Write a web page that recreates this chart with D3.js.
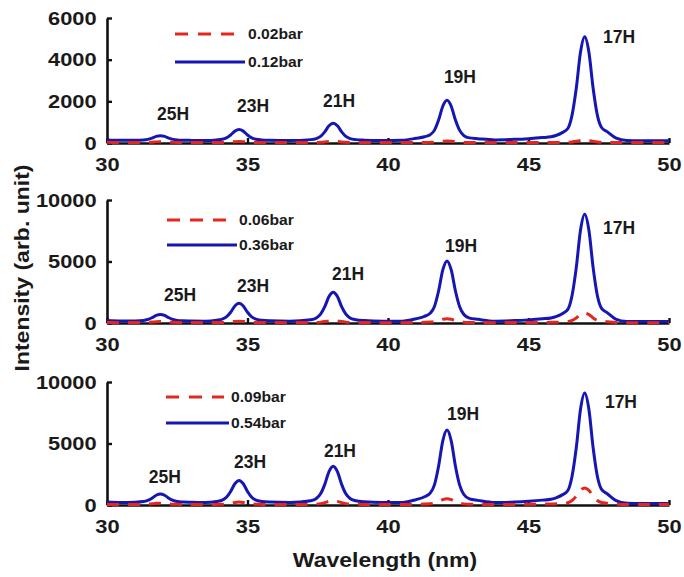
<!DOCTYPE html>
<html><head><meta charset="utf-8">
<script src="https://cdn.jsdelivr.net/npm/d3@7"></script>
<style>
body{margin:0;background:#fff}
text{font-family:Arial,"Liberation Sans",Helvetica,sans-serif;font-weight:bold;fill:#1a1a1a}
</style>
</head><body>
<svg id="chart" width="684" height="577"></svg>
<script>
// ---- data ----
const wavelength = [30.0,30.5,31.0,31.3,31.45,31.6,31.75,31.9,32.05,32.2,32.35,32.5,32.7,33.0,33.5,
 33.9,34.1,34.25,34.4,34.55,34.7,34.85,35.0,35.15,35.3,35.5,35.8,36.5,
 37.25,37.45,37.6,37.75,37.9,38.05,38.2,38.35,38.5,38.65,38.85,39.15,39.8,40.5,
 41.0,41.3,41.5,41.65,41.8,41.95,42.1,42.25,42.4,42.55,42.7,42.9,43.2,43.8,44.5,45.0,45.5,
 45.8,46.0,46.2,46.4,46.55,46.7,46.85,47.0,47.15,47.3,47.45,47.6,47.8,48.1,48.5,49.0,50.0];

const blue1 = [150,130,129,145,175,235,316,350,316,235,175,145,132,125,120,
 147,178,247,385,570,650,570,385,247,178,147,131,120,
 162,211,319,535,826,950,826,535,319,211,162,137,120,130,
 226,302,397,606,1100,1765,2050,1765,1100,606,359,245,207,150,175,209,259,
 299,373,497,695,1338,2625,4358,5100,4358,2625,1338,744,546,249,120,110,110];
const red1 = [30,20,22,24,30,40,54,60,54,40,30,24,22,21,20,
 23,26,32,45,62,70,62,45,32,26,23,21,20,
 23,27,34,50,71,80,71,50,34,27,23,21,20,20,
 23,26,30,39,60,88,100,88,60,39,29,24,22,20,21,21,23,
 24,25,28,33,49,80,122,140,122,80,49,34,30,22,20,20,20];

const blue2 = [200,160,172,211,282,425,618,700,618,425,282,211,178,161,150,
 223,310,498,875,1383,1600,1383,875,498,310,223,179,150,
 268,409,714,1325,2148,2500,2148,1325,714,409,268,197,150,150,
 346,542,787,1326,2600,4315,5050,4315,2600,1326,689,395,297,150,194,254,341,
 411,542,759,1107,2238,4500,7545,8850,7545,4500,2238,1194,846,324,130,120,120];
const red2 = [40,30,34,40,52,75,107,120,107,75,52,40,35,32,30,
 36,43,59,90,132,150,132,90,59,43,36,32,30,
 39,49,71,115,175,200,175,115,71,49,39,33,30,30,
 43,56,72,107,190,302,350,302,190,107,65,46,40,30,34,39,47,
 53,65,84,115,215,415,685,800,685,415,215,122,92,45,30,30,30];

const blue3 = [250,210,228,277,368,550,795,900,795,550,368,277,235,214,200,
 290,398,632,1100,1730,2000,1730,1100,632,398,290,236,200,
 348,525,908,1675,2708,3150,2708,1675,908,525,348,259,200,200,
 436,672,967,1616,3150,5215,6100,5215,3150,1616,849,495,377,200,245,307,396,
 467,601,823,1179,2336,4650,7765,9100,7765,4650,2336,1268,912,378,140,120,120];
const red3 = [50,40,44,52,66,95,134,150,134,95,66,52,46,42,40,
 50,62,88,140,210,240,210,140,88,62,50,44,40,
 55,73,112,190,295,340,295,190,112,73,55,46,40,40,
 58,77,100,150,270,431,500,431,270,150,91,63,54,40,47,56,70,
 80,101,135,189,364,715,1188,1390,1188,715,364,202,148,67,40,40,40];

const xTicks = [30,35,40,45,50];
const yTicks1 = [0,2000,4000,6000];
const yTicks23 = [0,5000,10000];
const harmonics = ["25H","23H","21H","19H","17H"];
const legend1 = ["0.02bar","0.12bar"];
const legend2 = ["0.06bar","0.36bar"];
const legend3 = ["0.09bar","0.54bar"];
// harmonic label anchors in data coordinates (wavelength, intensity)
const labelWl1 = [32.35,35.2,38.26,42.56,48.22];
const labelI1  = [1104,1488,1728,2880,4800];
const labelWl2 = [32.6,35.2,38.58,42.6,48.22];
const labelI2  = [1813,2545,3496,5797,7236];
const labelWl3 = [32.06,35.09,38.29,42.67,48.29];
const labelI3  = [1813,3008,3927,6911,7886];

// ---- drawing ----
const svg = d3.select("#chart");
const BLUE = "#1616b2", RED = "#e3261e";
const x = d3.scaleLinear().domain([30,50]).range([107,669]);

const panels = [
  {blue:blue1, red:red1, yMax:6000, yTicks:yTicks1, legend:legend1, lx:labelWl1, ly:labelI1,
   yr:[143,18], leg:{x1:175, x2red:235, x2blue:245, yRed:34, yBlue:62, tx:248}},
  {blue:blue2, red:red2, yMax:10000, yTicks:yTicks23, legend:legend2, lx:labelWl2, ly:labelI2,
   yr:[323,200], leg:{x1:167, x2red:227, x2blue:237, yRed:220, yBlue:245, tx:239}},
  {blue:blue3, red:red3, yMax:10000, yTicks:yTicks23, legend:legend3, lx:labelWl3, ly:labelI3,
   yr:[505,382], leg:{x1:166, x2red:224, x2blue:229, yRed:397, yBlue:423, tx:231}}
];

panels.forEach(p => {
  const y = d3.scaleLinear().domain([0,p.yMax]).range(p.yr);
  const g = svg.append("g");

  const xa = g.append("g").attr("transform",`translate(0,${p.yr[0]})`)
    .call(d3.axisBottom(x).tickValues(xTicks).tickSize(-5).tickSizeOuter(0).tickPadding(15));
  const ya = g.append("g").attr("transform",`translate(${x(30)},0)`)
    .call(d3.axisLeft(y).tickValues(p.yTicks).tickSize(-5).tickSizeOuter(0).tickPadding(9).tickFormat(d3.format("d")));
  [xa,ya].forEach(a => {
    a.select(".domain").attr("stroke","#111").attr("stroke-width",2.6);
    a.selectAll(".tick line").attr("stroke","#111").attr("stroke-width",2.4);
    a.selectAll(".tick text").attr("font-size",19).attr("fill","#1a1a1a")
      .style("font-family","Arial, 'Liberation Sans', sans-serif").style("font-weight","bold")
      .attr("transform","scale(1.15,1)");
  });

  const line = d3.line().x((d,i)=>x(wavelength[i])).y(d=>y(d)).curve(d3.curveMonotoneX);
  g.append("path").datum(p.blue).attr("d",line).attr("fill","none")
    .attr("stroke",BLUE).attr("stroke-width",3).attr("stroke-linejoin","round");
  g.append("path").datum(p.red).attr("d",line).attr("fill","none")
    .attr("stroke",RED).attr("stroke-width",3).attr("stroke-dasharray","12,9");

  // harmonic labels
  harmonics.forEach((h,i) => {
    g.append("text").attr("transform",`translate(${x(p.lx[i])},${y(p.ly[i])})`)
      .attr("text-anchor","middle").attr("font-size",17.5).text(h);
  });

  // legend
  const L = p.leg;
  g.append("line").attr("x1",L.x1).attr("x2",L.x2red).attr("y1",L.yRed).attr("y2",L.yRed)
    .attr("stroke",RED).attr("stroke-width",3).attr("stroke-dasharray","13,10");
  g.append("line").attr("x1",L.x1).attr("x2",L.x2blue).attr("y1",L.yBlue).attr("y2",L.yBlue)
    .attr("stroke",BLUE).attr("stroke-width",3);
  g.append("text").attr("transform",`translate(${L.tx},${L.yRed+5}) scale(1.12,1)`)
    .attr("font-size",14).text(p.legend[0]);
  g.append("text").attr("transform",`translate(${L.tx},${L.yBlue+5}) scale(1.12,1)`)
    .attr("font-size",14).text(p.legend[1]);
});

svg.append("text").attr("transform","translate(385,567) scale(1.15,1)")
  .attr("text-anchor","middle").attr("font-size",20).text("Wavelength (nm)");
svg.append("text").attr("transform","translate(29,268) rotate(-90) scale(1.15,1)")
  .attr("text-anchor","middle").attr("font-size",20).text("Intensity (arb. unit)");
</script>
</body></html>
